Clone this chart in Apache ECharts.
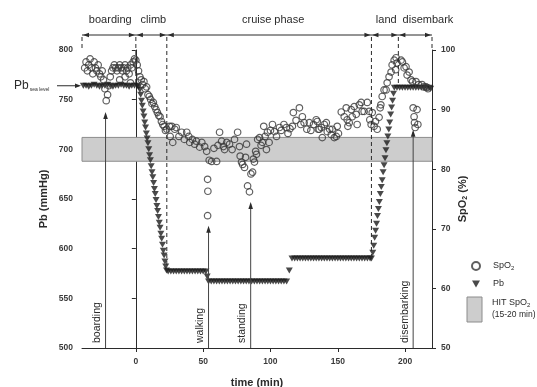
<!DOCTYPE html>
<html>
<head>
<meta charset="utf-8">
<script src="https://cdn.jsdelivr.net/npm/echarts@6/dist/echarts.min.js"></script>
<style>
  html, body { margin: 0; padding: 0; background: #fff; }
  #chart { width: 537px; height: 387px; }
</style>
</head>
<body>
<div id="chart"></div>
<script>
// flight phases (time in min)
const phaseNames = ['boarding', 'climb', 'cruise phase', 'land', 'disembark'];
const phaseBounds = [-40, 0, 23, 175, 195, 220];

// activity events (time in min)
const eventNames = ['boarding', 'walking', 'standing', 'disembarking'];
const eventTimes = [-22.5, 54, 85.3, 206];

// HIT SpO2 band in mmHg, sea level pressure
const hitBand = [688, 712];
const pbSeaLevel = 764;

const xTicks = [0, 50, 100, 150, 200];

// SpO2 (%) readings, [time, value]
const spo2Boarding = [
  [-38, 97], [-37, 98], [-36, 96.5], [-35, 97.5], [-34, 98.5], [-33, 97], [-32, 96], [-31, 98],
  [-30, 97], [-29, 96.5], [-28, 97.5], [-27, 96], [-26, 95.5], [-25, 96.5], [-24, 95], [-23, 93.5],
  [-22, 91.5], [-21, 92.5], [-20, 94], [-19, 95.5], [-18, 96.5], [-17, 97], [-16, 97.5], [-15, 97],
  [-14, 96.5], [-13, 97], [-12, 97.5], [-11, 97], [-10, 96.5], [-9, 97], [-8, 97.5], [-7, 96.5],
  [-6, 97], [-5, 96], [-4, 97.5], [-3, 97], [-2, 98], [-1, 98.5], [-12, 95], [-8, 95.5], [-4, 94.5]
];
const spo2Climb = [
  [0, 98.3], [1, 97.5], [2, 96.5], [3, 95.5], [4, 95], [5, 94.2], [6, 94.7], [7, 93.5], [8, 93.8],
  [9, 92.5], [10, 92.2], [11, 91.7], [12, 91], [13, 91.2], [14, 90.5], [15, 90], [16, 89.5],
  [17, 89], [18, 88.8], [19, 88], [20, 87.5], [21, 87.2], [22, 86.5]
];
const spo2Cruise = [
  [23, 86.7], [25, 87.2], [25.5, 85.5], [26.7, 87.2], [27.4, 84.5], [28.9, 86.7], [30, 87], [32, 85.5],
  [34, 86.2], [36, 85], [37.8, 86.2], [39.3, 85.5], [40, 84.5], [42, 85], [43.7, 84.2], [45, 84.7],
  [47.4, 83.7], [49, 84.5], [51.1, 83.8], [52.6, 83], [53.3, 78.3], [53.5, 76.3], [53.3, 72.2],
  [54.5, 81.5], [56.3, 81.3], [58, 83.5], [60, 81.3], [61, 84], [62.2, 86.2], [63.7, 84.7], [65, 83.8],
  [65.9, 83.3], [67.5, 84.5], [69.6, 84.2], [71.5, 83.3], [73.3, 85], [75.6, 86.2], [77, 83.8],
  [77.5, 82.2], [78.5, 81.2], [79.3, 80.8], [80.7, 80.3], [81.5, 82], [82.2, 84.2], [83, 77.2],
  [84.4, 76.2], [85.5, 79.2], [86.7, 79.5], [87.3, 81.7], [88.1, 81.2], [89, 83], [89.6, 82.5],
  [90.5, 85], [91.9, 85.3], [93, 84], [94, 84.5], [95, 87.2], [96, 85.5], [97, 83.3], [97.8, 86.2],
  [99, 84.5], [100, 86.5], [101.5, 87.5], [103, 86.3], [104.5, 85.5], [106.7, 87], [108, 86.5],
  [110, 87.5], [111.9, 87], [113, 86], [114.5, 86.8], [116.3, 87.2], [117, 89.5], [119, 88.2],
  [121.5, 90.3], [122.5, 87.5], [123.7, 88.8], [125, 87.8], [127, 86.7], [128.9, 87.8], [130, 86.5],
  [132, 87.5], [134, 88.3], [134.8, 88], [135.5, 86.7], [136.3, 86.7], [137.8, 87], [138.5, 85.3],
  [140, 87.5], [141.5, 87.8], [142.2, 86.3], [144, 86.7], [145.2, 85.8], [145.9, 86.7], [147.4, 85.3],
  [148.9, 85.5], [149.6, 87.2], [150.5, 86], [152.6, 89.6], [154.8, 88.8], [156.3, 90.3], [157, 88.3],
  [157.5, 87.2], [158.5, 87.8], [160, 90], [160.7, 88.8], [162.2, 90.5], [163.7, 89.2], [164.4, 87.5],
  [166, 90.8], [167.4, 91.2], [168.1, 89.7], [169.6, 89.7], [171.9, 91.2], [173.3, 89.7], [173.8, 88.3],
  [174.8, 87.5], [175.6, 89.5]
];
const spo2Land = [
  [177, 87.2], [178, 88], [179.3, 86.7], [180.7, 88.7], [181.5, 90.3], [182, 90.8], [183, 92.2],
  [184.4, 93.3], [185.9, 93.3], [186.7, 94.5], [188.1, 95.5], [189.6, 96.3], [190.4, 97.5],
  [191.9, 98.3], [193.3, 98.7], [194, 97.8], [193, 96.7]
];
const spo2Disembark = [
  [197, 98.3], [198, 98], [199.3, 97], [200.7, 97.2], [201.5, 95.8], [203, 96.3], [204.4, 95],
  [205.5, 94.7], [206, 90.3], [206.7, 88.8], [207, 87.8], [207.5, 87], [208.1, 94.7], [208.9, 90],
  [209.5, 87.5], [210, 94.2], [212.6, 94.2], [214, 93.8], [215.6, 93.8], [216.3, 93.7], [217, 93.5]
];

// cabin pressure Pb (mmHg), [time, value]
const pbBoarding = [
  [-39, 764], [-37, 764], [-35, 763], [-33, 764], [-31, 765], [-29, 764], [-27, 763], [-25, 764],
  [-23, 764], [-21, 765], [-19, 764], [-17, 763], [-15, 764], [-13, 764], [-11, 765], [-9, 764],
  [-7, 764], [-5, 763], [-3, 764], [-1, 764]
];
const pbClimb = [
  [1, 764], [2, 763], [3, 760], [3.6, 755], [4.2, 749], [4.8, 744], [5.4, 738], [6, 733], [6.6, 727],
  [7.2, 722], [7.8, 716], [8.4, 711], [9, 706], [9.6, 700], [10.2, 694], [10.8, 689], [11.4, 683],
  [12, 677], [12.6, 672], [13.2, 666], [13.8, 660], [14.4, 655], [15, 649], [15.6, 643], [16.2, 638],
  [16.8, 632], [17.4, 626], [18, 621], [18.6, 615], [19.2, 610], [19.8, 604], [20.4, 598],
  [21, 593], [21.6, 587], [22.2, 582], [22.8, 578]
];
const pbCruise = [
  [24, 577], [26, 577], [28, 577], [30, 577], [32, 577], [34, 577], [36, 577], [38, 577], [40, 577],
  [42, 577], [44, 577], [46, 577], [48, 577], [50, 577], [52, 577], [53, 572],
  [54, 567], [56, 567], [58, 567], [60, 567], [62, 567], [64, 567], [66, 567], [68, 567], [70, 567],
  [72, 567], [74, 567], [76, 567], [78, 567], [80, 567], [82, 567], [84, 567], [86, 567], [88, 567],
  [90, 567], [92, 567], [94, 567], [96, 567], [98, 567], [100, 567], [102, 567], [104, 567],
  [106, 567], [108, 567], [110, 567], [112, 567], [114, 578],
  [116, 590], [118, 590], [120, 590], [122, 590], [124, 590], [126, 590], [128, 590], [130, 590],
  [132, 590], [134, 590], [136, 590], [138, 590], [140, 590], [142, 590], [144, 590], [146, 590],
  [148, 590], [150, 590], [152, 590], [154, 590], [156, 590], [158, 590], [160, 590], [162, 590],
  [164, 590], [166, 590], [168, 590], [170, 590], [172, 590], [174, 590]
];
const pbLand = [
  [175, 590], [176, 596], [176.7, 603], [177.4, 611], [178.1, 618], [178.8, 625], [179.5, 633],
  [180.2, 640], [180.9, 647], [181.6, 655], [182.3, 662], [183, 669], [183.7, 677], [184.4, 684],
  [185.1, 691], [185.8, 699], [186.5, 706], [187.2, 713], [187.9, 720], [188.6, 727], [189.3, 735],
  [190, 742], [190.7, 749], [191.4, 756], [192, 762]
];
const pbDisembark = [
  [194, 762], [196, 762], [198, 762], [200, 762], [202, 762], [204, 762], [206, 762], [208, 762],
  [210, 762], [212, 762], [214, 762], [216, 762], [218, 762], [219, 761]
];

// ---- layout (not data) ----
const ink = '#2b2b2b';
const font = 'Liberation Sans, Arial, sans-serif';
const arrowY = 35;
const phaseLabelAt = [-19, 13, 102, 186, 217];
const phaseLineEnds = [800, 764, 577, 590, 762, 800];   // mmHg where the dashed divider stops
const eventTips = [89.6, 70.5, 74.5, 86.6];              // SpO2 % where the event arrow points

const downTriangle = 'path://M0,0 L10,0 L5,9 Z';

const chart = echarts.init(document.getElementById('chart'));

const tickLabel = { fontSize: 8.5, fontWeight: 'bold', color: '#3a3a3a', margin: 9 };

const option = {
  animation: false,
  backgroundColor: '#fff',
  textStyle: { fontFamily: font, color: ink },
  grid: { left: 82, right: 105, top: 50, bottom: 39, outerBoundsMode: 'none', containLabel: false },
  legend: {
    orient: 'vertical',
    left: 466,
    top: 256,
    itemWidth: 8,
    itemHeight: 8,
    itemGap: 8,
    data: ['SpO2', 'Pb'],
    formatter: (name) => name === 'SpO2' ? '{a|SpO}{b|2}' : '{a|Pb}',
    textStyle: {
      padding: [0, 0, 0, 8],
      rich: {
        a: { fontSize: 9, color: ink, fontFamily: font },
        b: { fontSize: 6, color: ink, fontFamily: font, padding: [5, 0, 0, 0] },
      },
    },
  },
  xAxis: {
    type: 'value',
    min: -40,
    max: 220,
    name: 'time (min)',
    nameLocation: 'middle',
    nameGap: 29,
    nameMoveOverlap: false,
    nameTextStyle: { fontSize: 11, fontWeight: 'bold', color: ink },
    axisLine: { show: true, onZero: false, lineStyle: { color: ink, width: 1 } },
    axisTick: { show: true, customValues: xTicks, length: 4, lineStyle: { color: ink } },
    axisLabel: { customValues: xTicks, ...tickLabel },
    splitLine: { show: false },
  },
  yAxis: [
    {
      type: 'value',
      position: 'left',
      min: 500,
      max: 800,
      interval: 50,
      name: 'Pb (mmHg)',
      nameLocation: 'middle',
      nameRotate: 90,
      nameGap: 33,
      nameMoveOverlap: false,
      nameTextStyle: { fontSize: 11, fontWeight: 'bold', color: ink },
      axisLine: { show: true, lineStyle: { color: ink, width: 1 } },
      axisTick: { show: true, length: 4, lineStyle: { color: ink } },
      axisLabel: tickLabel,
      splitLine: { show: false },
    },
    {
      type: 'value',
      position: 'right',
      min: 50,
      max: 100,
      interval: 10,
      name: '{a|SpO}{b|2}{a| (%)}',
      nameLocation: 'middle',
      nameRotate: 90,
      nameGap: 24,
      nameMoveOverlap: false,
      nameTextStyle: {
        rich: {
          a: { fontSize: 11, fontWeight: 'bold', color: ink, fontFamily: font },
          b: { fontSize: 7, fontWeight: 'bold', color: ink, fontFamily: font, padding: [6, 0, 0, 0] },
        },
      },
      axisLine: { show: true, lineStyle: { color: ink, width: 1 } },
      axisTick: { show: true, length: 4, lineStyle: { color: ink } },
      axisLabel: tickLabel,
      splitLine: { show: false },
    },
  ],
  series: [
    {
      name: 'Pb',
      type: 'scatter',
      yAxisIndex: 0,
      symbol: downTriangle,
      symbolSize: [7, 6],
      itemStyle: { color: '#1c1c1c' },
      data: [...pbBoarding, ...pbClimb, ...pbCruise, ...pbLand, ...pbDisembark],
      markArea: {
        silent: true,
        itemStyle: { color: '#cdcdcd', borderColor: '#8c8c8c', borderWidth: 1 },
        data: [[{ yAxis: hitBand[0] }, { yAxis: hitBand[1] }]],
      },
      z: 3,
    },
    {
      name: 'SpO2',
      type: 'scatter',
      yAxisIndex: 1,
      symbol: 'circle',
      symbolSize: 6.5,
      itemStyle: { color: 'rgba(255,255,255,0)', borderColor: '#383838', borderWidth: 1.2 },
      data: [...spo2Boarding, ...spo2Climb, ...spo2Cruise, ...spo2Land, ...spo2Disembark],
      z: 4,
    },
  ],
};

chart.setOption(option);

// annotations placed through the chart's own scales
const toPx = (t, v, yIdx) => chart.convertToPixel({ xAxisIndex: 0, yAxisIndex: yIdx || 0 }, [t, v]);
const g = [];
const line = (x1, y1, x2, y2, dash) => ({
  type: 'line', silent: true, z: 10,
  shape: { x1, y1, x2, y2 },
  style: { stroke: ink, lineWidth: 1, lineDash: dash || null },
});
const tri = (pts) => ({ type: 'polygon', silent: true, z: 10, shape: { points: pts }, style: { fill: ink } });

// phase bar across the top
const xLeft = toPx(phaseBounds[0], 800)[0];
const xRight = toPx(phaseBounds[phaseBounds.length - 1], 800)[0];
g.push(line(xLeft, arrowY, xRight, arrowY));
phaseBounds.forEach((t, i) => {
  const x = toPx(t, 800)[0];
  const yEnd = toPx(t, phaseLineEnds[i])[1];
  g.push(line(x, arrowY + 2, x, yEnd, [4, 3]));
  if (i > 0) g.push(tri([[x - 1, arrowY], [x - 7, arrowY - 2.2], [x - 7, arrowY + 2.2]]));
  if (i < phaseBounds.length - 1) g.push(tri([[x + 1, arrowY], [x + 7, arrowY - 2.2], [x + 7, arrowY + 2.2]]));
});
phaseNames.forEach((name, i) => {
  g.push({
    type: 'text', silent: true, z: 10,
    x: toPx(phaseLabelAt[i], 800)[0], y: 20,
    style: { text: name, fontSize: 11, fontFamily: font, fill: ink, align: 'center', verticalAlign: 'middle' },
  });
});

// event markers with vertical labels
const yBottom = toPx(0, 500)[1];
eventTimes.forEach((t, i) => {
  const x = toPx(t, 500)[0];
  const yTip = toPx(t, eventTips[i], 1)[1];
  g.push({
    type: 'line', silent: true, z: 10,
    shape: { x1: x, y1: yBottom, x2: x, y2: yTip + 2 },
    style: { stroke: '#444', lineWidth: 1 },
  });
  g.push(tri([[x, yTip], [x - 2.3, yTip + 7], [x + 2.3, yTip + 7]]));
  g.push({
    type: 'text', silent: true, z: 10,
    x: x - 3, y: yBottom - 5, rotation: Math.PI / 2,
    style: { text: eventNames[i], fontSize: 10.5, fontFamily: font, fill: ink, align: 'left', verticalAlign: 'bottom' },
  });
});

// Pb sea level marker
const ySea = toPx(-40, pbSeaLevel)[1];
g.push({
  type: 'text', silent: true, z: 10, x: 14, y: ySea,
  style: {
    text: '{a|Pb}{b|sea level}',
    verticalAlign: 'middle',
    rich: {
      a: { fontSize: 12, fontFamily: font, fill: ink },
      b: { fontSize: 5, fontFamily: font, fill: ink, padding: [8, 0, 0, 1] },
    },
  },
});
g.push(line(57, ySea, xLeft - 3, ySea));
g.push(tri([[xLeft - 1, ySea], [xLeft - 7, ySea - 2.2], [xLeft - 7, ySea + 2.2]]));

// HIT band legend entry
g.push({
  type: 'rect', silent: true, z: 10,
  shape: { x: 467, y: 297, width: 15, height: 25 },
  style: { fill: '#cdcdcd', stroke: '#8c8c8c', lineWidth: 1 },
});
g.push({
  type: 'text', silent: true, z: 10, x: 492, y: 303,
  style: {
    text: '{a|HIT SpO}{b|2}',
    verticalAlign: 'middle',
    rich: {
      a: { fontSize: 9, fontFamily: font, fill: ink },
      b: { fontSize: 6, fontFamily: font, fill: ink, padding: [5, 0, 0, 0] },
    },
  },
});
g.push({
  type: 'text', silent: true, z: 10, x: 492, y: 315,
  style: { text: '(15-20 min)', fontSize: 8.5, fontFamily: font, fill: ink, verticalAlign: 'middle' },
});

chart.setOption({ graphic: g });
</script>
</body>
</html>
